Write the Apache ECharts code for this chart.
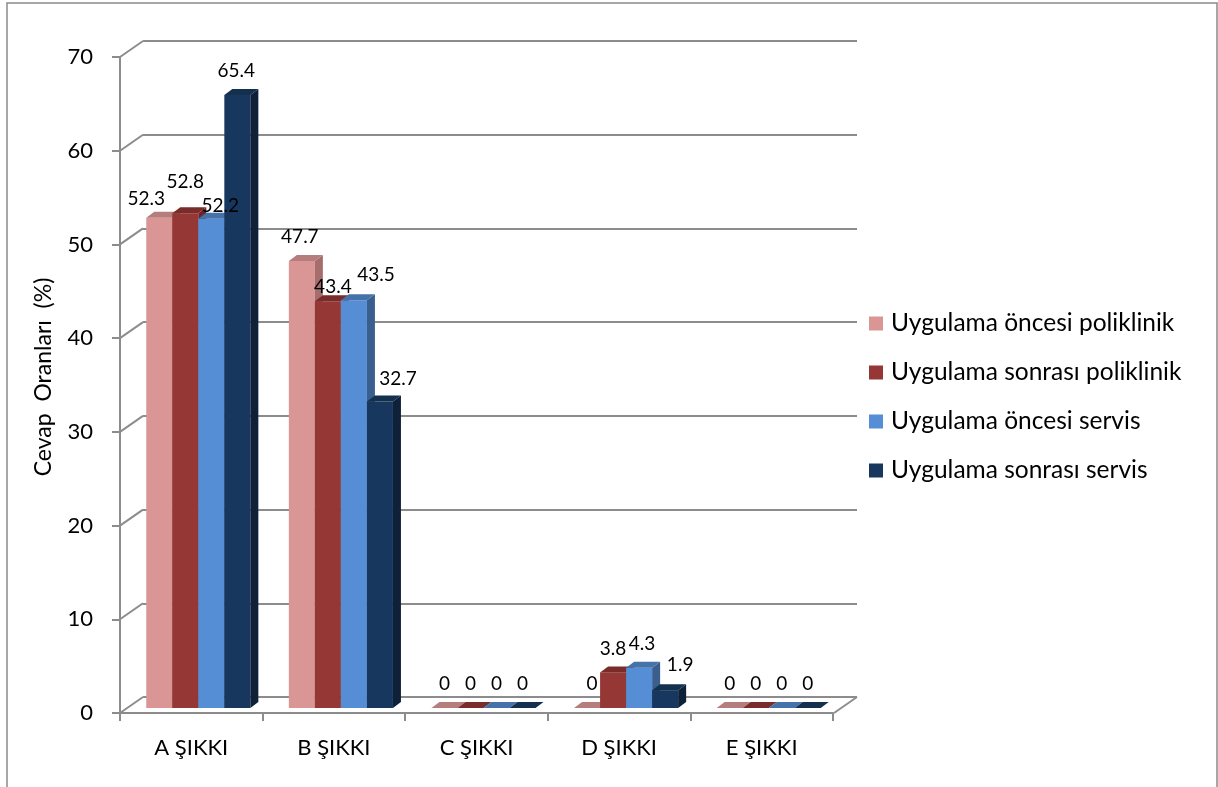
<!DOCTYPE html>
<html>
<head>
<meta charset="utf-8">
<script src="https://cdn.jsdelivr.net/npm/echarts/dist/echarts.min.js"></script>
<style>
  html, body { margin: 0; padding: 0; background: #fff; }
  #chart { width: 1218px; height: 787px; }
</style>
</head>
<body>
<div id="chart"></div>
<script>
// Answer categories
const categories = ['A ŞIKKI', 'B ŞIKKI', 'C ŞIKKI', 'D ŞIKKI', 'E ŞIKKI'];

// Series names
const seriesNames = [
  'Uygulama öncesi poliklinik',
  'Uygulama sonrası poliklinik',
  'Uygulama öncesi servis',
  'Uygulama sonrası servis'
];

// Answer rates (%)
const oncesiPoliklinik  = [52.3, 47.7, 0, 0, 0];
const sonrasiPoliklinik = [52.8, 43.4, 0, 3.8, 0];
const oncesiServis      = [52.2, 43.5, 0, 4.3, 0];
const sonrasiServis     = [65.4, 32.7, 0, 1.9, 0];

// Value axis tick values
const yTicks = [0, 10, 20, 30, 40, 50, 60, 70];

const seriesValues = [oncesiPoliklinik, sonrasiPoliklinik, oncesiServis, sonrasiServis];

// Face colours: front / top / side
const palette = [
  { front: '#D99694', top: '#B57E7C', side: '#A56E6C' },
  { front: '#953735', top: '#7A2C2A', side: '#6B2625' },
  { front: '#558ED5', top: '#4672AA', side: '#3A5F8F' },
  { front: '#17375E', top: '#13304F', side: '#0E2139' }
];

// Small pixel nudges for value labels that would otherwise collide
const labelNudge = [
  [[-13, 5], [-2, 0], [0, 0], [5, 0], [0, 0]],
  [[0, -7], [5, 10], [0, 0], [0, 0], [0, 0]],
  [[9, 11], [22, -1], [0, 0], [3, 0], [0, 0]],
  [[-1, 0], [18, 1], [0, 0], [15, -1], [0, 0]]
];

const FONT = 'Lato, "Open Sans", sans-serif';
const GRID_COLOR = '#8C8C8C';

// Perspective of the box: back wall offset from the front axes
const WALL_DX = 23, WALL_DY = 16;
// Bars stand part-way into the box, with a shallow depth of their own
const BAR_DX = 7, BAR_DY = 5;
const BAR_DEPTH_X = 8, BAR_DEPTH_Y = 6;
const GROUP_SHARE = 0.73;

const FRONT = { left: 120, top: 57, width: 713, height: 656 };
const BACK = { left: FRONT.left + WALL_DX, top: FRONT.top - WALL_DY, width: FRONT.width + 1, height: FRONT.height };
const BARS = { left: FRONT.left + BAR_DX, top: FRONT.top - BAR_DY, width: FRONT.width, height: FRONT.height };

function barSeries(k) {
  const col = palette[k];
  return {
    type: 'custom',
    name: seriesNames[k],
    xAxisIndex: 2,
    yAxisIndex: 2,
    itemStyle: { color: col.front },
    data: seriesValues[k].map((v, i) => [i, v]),
    renderItem: function (params, api) {
      const idx = api.value(0);
      const val = api.value(1);
      const topPt = api.coord([idx, val]);
      const basePt = api.coord([idx, 0]);
      const band = api.size([1, 0])[0];
      const w = band * GROUP_SHARE / 4;
      const x0 = topPt[0] - 2 * w + k * w;
      const yt = topPt[1];
      const yb = basePt[1];
      const nd = labelNudge[k][idx];
      return {
        type: 'group',
        children: [
          {
            type: 'rect', z2: k,
            shape: { x: x0, y: yt, width: w, height: yb - yt },
            style: { fill: col.front }
          },
          {
            type: 'polygon', z2: k,
            shape: { points: [[x0 + w, yt], [x0 + w + BAR_DEPTH_X, yt - BAR_DEPTH_Y], [x0 + w + BAR_DEPTH_X, yb - BAR_DEPTH_Y], [x0 + w, yb]] },
            style: { fill: col.side }
          },
          {
            type: 'polygon', z2: k,
            shape: { points: [[x0, yt], [x0 + w, yt], [x0 + w + BAR_DEPTH_X, yt - BAR_DEPTH_Y], [x0 + BAR_DEPTH_X, yt - BAR_DEPTH_Y]] },
            style: { fill: col.top }
          },
          {
            type: 'text', z2: 20,
            x: x0 + w / 2 + nd[0],
            y: yt - BAR_DEPTH_Y - 18 + nd[1],
            style: {
              text: String(val),
              fill: '#000',
              fontSize: 19,
              fontFamily: FONT,
              align: 'center',
              verticalAlign: 'middle'
            }
          }
        ]
      };
    }
  };
}

// Left-wall diagonals at each tick, plus the right edge of the floor
const wallSeries = {
  type: 'custom',
  name: 'walls',
  xAxisIndex: 1,
  yAxisIndex: 1,
  silent: true,
  z: 1,
  data: yTicks.map(v => [0, v]),
  renderItem: function (params, api) {
    const cs = params.coordSys;
    const v = api.value(1);
    const y = api.coord([0, v])[1];
    const children = [{
      type: 'line',
      shape: { x1: cs.x, y1: y, x2: cs.x - WALL_DX, y2: y + WALL_DY },
      style: { stroke: GRID_COLOR, lineWidth: 2 }
    }];
    if (v === 0) {
      children.push({
        type: 'line',
        shape: { x1: cs.x + cs.width, y1: y, x2: cs.x + cs.width - WALL_DX, y2: y + WALL_DY },
        style: { stroke: GRID_COLOR, lineWidth: 2 }
      });
    }
    return { type: 'group', children: children };
  }
};

const chart = echarts.init(document.getElementById('chart'), null, { renderer: 'canvas' });

chart.setOption({
  backgroundColor: '#fff',
  animation: false,
  textStyle: { fontFamily: FONT },
  graphic: [
    {
      type: 'rect', silent: true, z: -10,
      shape: { x: 7, y: 3, width: 1210, height: 820 },
      style: { fill: 'none', stroke: '#8A8A8A', lineWidth: 1.5 }
    },
    {
      type: 'text', x: 44, y: 377, rotation: Math.PI / 2,
      style: {
        text: 'Cevap  Oranları  (%)',
        fill: '#000', fontSize: 23, fontFamily: FONT,
        align: 'center', verticalAlign: 'middle'
      }
    }
  ],
  legend: {
    data: seriesNames,
    orient: 'vertical',
    left: 869,
    top: 311,
    padding: 0,
    itemWidth: 14,
    itemHeight: 14,
    itemGap: 24,
    icon: 'rect',
    selectedMode: false,
    textStyle: { fontSize: 24.5, fontFamily: FONT, color: '#000', lineHeight: 22, padding: [0, 0, 0, 3] }
  },
  grid: [
    Object.assign({}, FRONT),
    Object.assign({}, BACK),
    Object.assign({}, BARS)
  ],
  xAxis: [
    {
      type: 'category', gridIndex: 0, data: categories,
      axisLine: { lineStyle: { color: GRID_COLOR, width: 2 } },
      axisTick: { show: true, length: 8, lineStyle: { color: GRID_COLOR, width: 2 } },
      axisLabel: { color: '#000', fontSize: 22, fontFamily: FONT, margin: 24 },
      splitLine: { show: false }
    },
    { type: 'category', gridIndex: 1, data: categories, show: false },
    { type: 'category', gridIndex: 2, data: categories, show: false }
  ],
  yAxis: [
    {
      type: 'value', gridIndex: 0, min: 0, max: 70, interval: 10,
      axisLine: { show: true, lineStyle: { color: GRID_COLOR, width: 2 } },
      axisTick: { show: true, length: 8, lineStyle: { color: GRID_COLOR, width: 2 } },
      axisLabel: { color: '#000', fontSize: 22, fontFamily: FONT, margin: 27 },
      splitLine: { show: false }
    },
    {
      type: 'value', gridIndex: 1, min: 0, max: 70, interval: 10,
      axisLine: { show: false }, axisTick: { show: false }, axisLabel: { show: false },
      splitLine: { show: true, lineStyle: { color: GRID_COLOR, width: 2 } }
    },
    {
      type: 'value', gridIndex: 2, min: 0, max: 70, interval: 10,
      show: false
    }
  ],
  series: [wallSeries, barSeries(0), barSeries(1), barSeries(2), barSeries(3)]
});
</script>
</body>
</html>
